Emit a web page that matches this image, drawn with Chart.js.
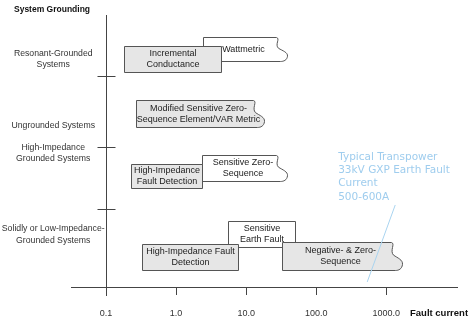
<!DOCTYPE html>
<html><head><meta charset="utf-8">
<script src="https://cdn.jsdelivr.net/npm/chart.js@4/dist/chart.umd.min.js"></script>
<style>html,body{margin:0;padding:0;background:#fff}#wrap{width:474px;height:322px;position:relative}</style>
</head><body><div id="wrap"><canvas id="c"></canvas></div>
<script>
// ---- data ----
const categories = [['Resonant-Grounded','Systems'],['Ungrounded Systems'],['High-Impedance','Grounded Systems'],['Solidly or Low-Impedance-','Grounded Systems']];
const tickValues = [0.1, 1, 10, 100, 1000];
const tickLabels = ['0.1', '1.0', '10.0', '100.0', '1000.0'];
const methodNames = [['Wattmetric'],['Incremental','Conductance'],['Modified Sensitive Zero-','Sequence Element/VAR Metric'],['Sensitive Zero-','Sequence'],['High-Impedance','Fault Detection'],['Sensitive','Earth Fault'],['High-Impedance Fault','Detection'],['Negative- & Zero-','Sequence']];
const methodCategory = [0, 0, 1, 2, 2, 3, 3, 3];
const currentFrom = [2.43, 0.18, 0.27, 2.35, 0.23, 5.5, 0.33, 32.7];
const currentTo = [38.5, 4.4, 18.1, 38.5, 2.35, 50, 7.7, 1690];
const openEnded = [true, false, true, true, false, false, false, true];
const gxpText = ['Typical Transpower', '33kV GXP Earth Fault', 'Current', '500-600A'];
const gxpCurrent = [535, 1344];

// ---- layout (vertical positions in y-scale units, styles) ----
const layout = {
  yMax: 3.9,
  rowBoundaries: [3.03, 2.01, 1.12],
  labelY: [3.27, 2.32, 1.92, 0.75],
  boxTop: [3.58, 3.46, 2.68, 1.89, 1.76, 0.95, 0.62, 0.64],
  boxBottom: [3.24, 3.08, 2.29, 1.52, 1.42, 0.57, 0.24, 0.24],
  shaded: [false, true, true, false, true, false, true, true],
  gxpLineY: [0.072, 1.176],
  gxpTextX: 206, gxpTextY: 1.864
};

const font = '"Liberation Sans", Arial, sans-serif';

const drawPlugin = {
  id: 'diagram',
  afterDraw(chart) {
    const ctx = chart.ctx, xs = chart.scales.x, ys = chart.scales.y, ca = chart.chartArea;
    ctx.save();
    // y axis line at 0.1
    const ax = Math.round(xs.getPixelForValue(0.1)) + 0.5;
    ctx.strokeStyle = '#444'; ctx.lineWidth = 1;
    ctx.beginPath(); ctx.moveTo(ax, ca.top); ctx.lineTo(ax, ca.bottom + 9); ctx.stroke();
    layout.rowBoundaries.forEach(v => {
      const py = Math.round(ys.getPixelForValue(v)) + 0.5;
      ctx.beginPath(); ctx.moveTo(ax - 9, py); ctx.lineTo(ax + 9, py); ctx.stroke();
    });
    // category labels
    ctx.fillStyle = '#333'; ctx.font = '8.7px ' + font; ctx.textAlign = 'center'; ctx.textBaseline = 'middle';
    categories.forEach((lines, i) => {
      const cy = ys.getPixelForValue(layout.labelY[i]);
      const lh = 11.5;
      lines.forEach((t, k) => ctx.fillText(t, ax / 2, cy + (k - (lines.length - 1) / 2) * lh));
    });
    // titles
    ctx.fillStyle = '#111'; ctx.textAlign = 'left';
    ctx.font = 'bold 8.5px ' + font;
    ctx.fillText('System Grounding', 14, 10);
    ctx.font = 'bold 9.5px ' + font;
    ctx.fillText('Fault current', 410, 313);
    // boxes
    const order = [];
    methodNames.forEach((_, i) => { if (!layout.shaded[i]) order.push(i); });
    methodNames.forEach((_, i) => { if (layout.shaded[i]) order.push(i); });
    order.forEach(i => {
      const l = Math.round(xs.getPixelForValue(currentFrom[i])) + 0.5;
      const r = Math.round(xs.getPixelForValue(currentTo[i])) + 0.5;
      const t = Math.round(ys.getPixelForValue(layout.boxTop[i])) + 0.5;
      const b = Math.round(ys.getPixelForValue(layout.boxBottom[i])) + 0.5;
      const h = b - t;
      ctx.beginPath();
      if (openEnded[i]) {
        ctx.moveTo(l, t); ctx.lineTo(r - 11, t);
        ctx.bezierCurveTo(r - 7, t + 1, r - 13, t + h * 0.3, r - 9, t + h * 0.45);
        ctx.bezierCurveTo(r - 5, t + h * 0.55, r + 0.5, t + h * 0.62, r, t + h * 0.78);
        ctx.bezierCurveTo(r - 0.5, t + h * 0.95, r - 4, b, r - 7, b);
        ctx.lineTo(l, b); ctx.closePath();
      } else {
        ctx.rect(l, t, r - l, h);
      }
      ctx.fillStyle = layout.shaded[i] ? '#e6e6e6' : '#ffffff';
      ctx.fill();
      ctx.strokeStyle = '#555'; ctx.lineWidth = 1; ctx.stroke();
      ctx.fillStyle = '#222'; ctx.font = '9px ' + font; ctx.textAlign = 'center'; ctx.textBaseline = 'middle';
      const cx = openEnded[i] ? (l + r) / 2 - 2 : (l + r) / 2, cy = (t + b) / 2;
      const lines = methodNames[i];
      lines.forEach((s, k) => ctx.fillText(s, cx, cy + (k - (lines.length - 1) / 2) * 11));
    });
    // GXP annotation
    ctx.strokeStyle = '#a9d4f0'; ctx.lineWidth = 1;
    ctx.beginPath();
    ctx.moveTo(xs.getPixelForValue(gxpCurrent[0]), ys.getPixelForValue(layout.gxpLineY[0]));
    ctx.lineTo(xs.getPixelForValue(gxpCurrent[1]), ys.getPixelForValue(layout.gxpLineY[1]));
    ctx.stroke();
    ctx.fillStyle = '#9fcdee'; ctx.font = '10.5px "DejaVu Sans", sans-serif'; ctx.textAlign = 'left'; ctx.textBaseline = 'middle';
    const tx = xs.getPixelForValue(layout.gxpTextX), ty = ys.getPixelForValue(layout.gxpTextY);
    gxpText.forEach((s, k) => ctx.fillText(s, tx, ty + k * 13.3));
    ctx.restore();
  }
};

new Chart(document.getElementById('c'), {
  type: 'scatter',
  data: { datasets: [] },
  options: {
    responsive: true, maintainAspectRatio: false, animation: false,
    layout: { padding: { left: 71, right: 17, top: 15, bottom: 3 } },
    plugins: { legend: { display: false }, tooltip: { enabled: false } },
    scales: {
      x: {
        type: 'logarithmic',
        min: Math.pow(10, -1.5), max: Math.pow(10, 4.01),
        afterBuildTicks: s => { s.ticks = tickValues.map(v => ({ value: v })); },
        afterFit: s => { s.height = 32; },
        ticks: { autoSkip: false, maxRotation: 0, padding: 13, color: '#333', font: { family: font, size: 9 },
          callback: (v, i) => tickLabels[i] },
        grid: { drawOnChartArea: false, drawTicks: true, tickLength: 8, color: '#444' },
        border: { display: true, color: '#444', width: 1 }
      },
      y: { display: false, min: 0, max: layout.yMax }
    }
  },
  plugins: [drawPlugin]
});
</script>
</body></html>
